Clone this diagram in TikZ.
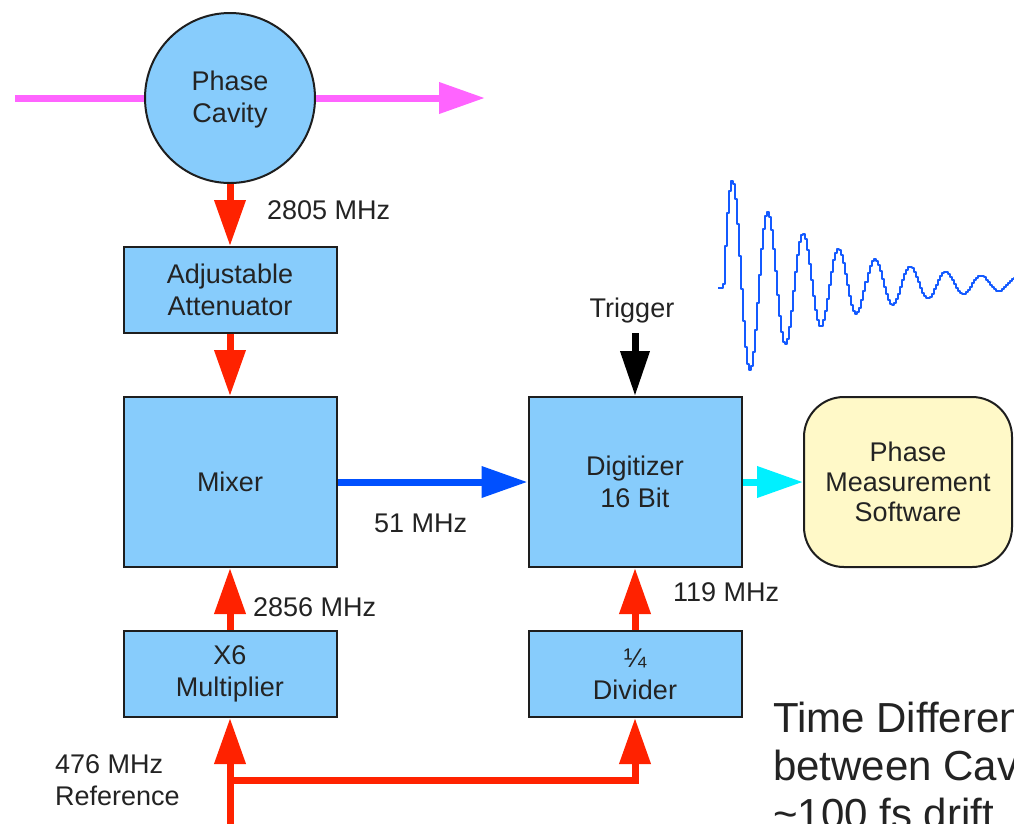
\documentclass[tikz,border=0pt]{standalone}
\usepackage{fontspec}
\setmainfont{Liberation Sans}
\usetikzlibrary{arrows.meta,calc}
\definecolor{boxblue}{RGB}{135,204,252}
\definecolor{boxline}{RGB}{30,30,30}
\definecolor{sigred}{RGB}{255,34,0}
\definecolor{beam}{RGB}{255,100,255}
\definecolor{ifblue}{RGB}{0,80,255}
\definecolor{datacyan}{RGB}{0,240,255}
\definecolor{softyellow}{RGB}{255,249,200}
\definecolor{txt}{RGB}{35,35,35}
\definecolor{wave}{RGB}{20,90,255}
\begin{document}
\begin{tikzpicture}[x=1pt,y=-1pt,
  every node/.style={text=txt, font=\fontsize{27}{32}\selectfont},
  blockbox/.style={draw=boxline, line width=2pt, fill=boxblue, align=center, inner sep=0pt, minimum width=213pt},
  sig/.style={line width=7pt, -{Triangle[length=46pt,width=30pt]}},
  lbl/.style={anchor=west, inner sep=0pt},
  bigtext/.style={anchor=base west, inner sep=0pt, font=\fontsize{42}{48}\selectfont},
]
\clip (0,0) rectangle (1014,823);
\fill[white] (0,0) rectangle (1014,823);

% waveform
\draw[wave, line width=2pt, line join=round] (718,288) -- (723,288) -- plot[domain=723:1016, samples=147, const plot]
  ({\x},{284-103*exp(-(\x-732)/99.5)*sin(10.141*(\x-723))});

% nodes
\node[circle, draw=boxline, line width=2pt, fill=boxblue, minimum size=170pt, inner sep=0pt, align=center] (cav) at (230,98) {\strut Phase\\Cavity};
\node[blockbox, minimum height=86pt] (att) at (230,290) {Adjustable\\Attenuator};
\node[blockbox, minimum height=170pt] (mix) at (230,482) {Mixer};
\node[blockbox, minimum height=170pt] (dig) at (635,482) {Digitizer\\16 Bit};
\node[blockbox, minimum height=86pt] (mult) at (230,674) {X6\\Multiplier};
\node[blockbox, minimum height=86pt] (div) at (635,674) {¼\\Divider};
\node[draw=boxline, line width=2pt, fill=softyellow, rounded corners=40pt, minimum width=208pt, minimum height=170pt, align=center, inner sep=0pt, font=\fontsize{27}{30}\selectfont] (pms) at (908,482) {Phase\\Measurement\\Software};

% labels
\node[lbl] (l2805) at (267,210) {2805 MHz};
\node[lbl] (l51) at (374,523) {51 MHz};
\node[lbl] (l2856) at (253,607) {2856 MHz};
\node[lbl] (l119) at (673,592) {119 MHz};
\node (trig) at (632,311) {Trigger};
\node[anchor=west, inner sep=0pt, align=left] (lref) at (55,780) {476 MHz\\Reference};

\node[bigtext] (t1) at (773,732) {Time Difference};
\node[bigtext] (t2) at (773,780) {between Cavity};
\node[bigtext] (t3) at (773,828) {\textasciitilde 100 fs drift};

% coordinates
\coordinate (beamIn) at (15,98);
\coordinate (beamOut) at (485,98);
\coordinate (trigA) at (635,333);
\coordinate (refIn) at (230,830);
\coordinate (branch) at (230,780);

% connectors
\draw[line width=7pt, beam] (beamIn) -- (cav.west);
\draw[sig, beam] (cav.east) -- (beamOut);
\draw[sig, sigred] (cav.south) -- (att.north);
\draw[sig, sigred] (att.south) -- (mix.north);
\draw[sig, ifblue] (mix.east) -- (dig.west);
\draw[line width=7pt, black, -{Triangle[length=45pt,width=28pt]}] (trigA) -- (dig.north);
\draw[sig, datacyan] (dig.east) -- (pms.west);
\draw[sig, sigred] (mult.north) -- (mix.south);
\draw[sig, sigred] (div.north) -- (dig.south);
\draw[sig, sigred] (refIn) -- (mult.south);
\draw[sig, sigred] (branch) -- (branch -| div.south) -- (div.south);
\end{tikzpicture}
\end{document}
